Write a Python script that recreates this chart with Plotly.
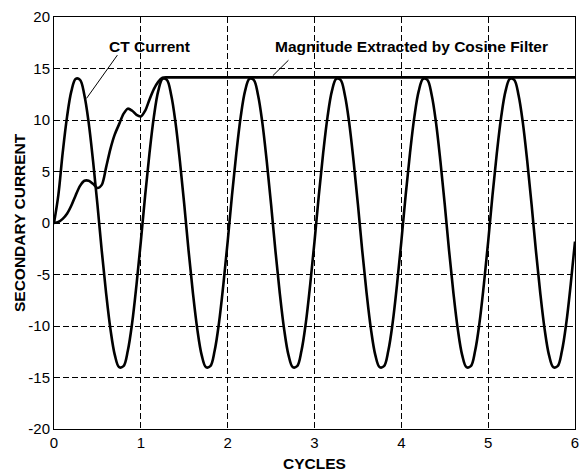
import plotly.graph_objects as go

ct_x = [i * 0.05 for i in range(121)]
ct_y = [0.0,
        2.7, 6.8, 10.3, 12.8, 14.0, 13.9, 12.4, 9.7, 6.0, 1.8,
        -2.7, -6.8, -10.3, -12.8, -14.0, -13.9, -12.4, -9.7, -6.0, -1.8,
        2.7, 6.8, 10.3, 12.8, 14.0, 13.9, 12.4, 9.7, 6.0, 1.8,
        -2.7, -6.8, -10.3, -12.8, -14.0, -13.9, -12.4, -9.7, -6.0, -1.8,
        2.7, 6.8, 10.3, 12.8, 14.0, 13.9, 12.4, 9.7, 6.0, 1.8,
        -2.7, -6.8, -10.3, -12.8, -14.0, -13.9, -12.4, -9.7, -6.0, -1.8,
        2.7, 6.8, 10.3, 12.8, 14.0, 13.9, 12.4, 9.7, 6.0, 1.8,
        -2.7, -6.8, -10.3, -12.8, -14.0, -13.9, -12.4, -9.7, -6.0, -1.8,
        2.7, 6.8, 10.3, 12.8, 14.0, 13.9, 12.4, 9.7, 6.0, 1.8,
        -2.7, -6.8, -10.3, -12.8, -14.0, -13.9, -12.4, -9.7, -6.0, -1.8,
        2.7, 6.8, 10.3, 12.8, 14.0, 13.9, 12.4, 9.7, 6.0, 1.8,
        -2.7, -6.8, -10.3, -12.8, -14.0, -13.9, -12.4, -9.7, -6.0, -1.8]

# magnitude from the cosine filter
mag_x = [0, 0.05, 0.1, 0.15, 0.2, 0.25, 0.3, 0.35, 0.4, 0.45, 0.5, 0.55,
         0.6, 0.65, 0.7, 0.75, 0.8, 0.85, 0.9, 0.95, 1.0, 1.05, 1.1, 1.15,
         1.2, 1.25, 1.3, 1.35, 1.4, 6.0]
mag_y = [0, 0.1, 0.4, 0.9, 1.7, 2.7, 3.6, 4.1, 4.1, 3.8, 3.4, 3.7,
         5.4, 7.2, 8.6, 9.6, 10.6, 11.1, 10.9, 10.5, 10.35, 10.9, 12.0, 13.0,
         13.7, 14.1, 14.14, 14.14, 14.14, 14.14]

x_ticks = [0, 1, 2, 3, 4, 5, 6]
y_ticks = [-20, -15, -10, -5, 0, 5, 10, 15, 20]

FONT = "Liberation Sans, Arial, sans-serif"
BOLD = dict(family=FONT, size=15.5, color='black')

fig = go.Figure()
fig.add_trace(go.Scatter(x=ct_x, y=ct_y, mode='lines', line=dict(color='black', width=2.6, shape='spline'),
                         name='CT Current'))
fig.add_trace(go.Scatter(x=mag_x, y=mag_y, mode='lines', line=dict(color='black', width=2.6, shape='spline', smoothing=0.8),
                         name='Magnitude'))

axis_common = dict(showline=True, mirror=True, linecolor='black', linewidth=1,
                   showgrid=True, gridcolor='black', gridwidth=1, griddash='6px,3px',
                   zeroline=False, ticks='', automargin=False,
                   tickfont=dict(family=FONT, size=15, color='black'))

fig.update_xaxes(range=[0, 6], tickvals=x_ticks, ticktext=[str(v) for v in x_ticks], **axis_common)
fig.update_yaxes(range=[-20, 20], tickvals=y_ticks, ticktext=[str(v) for v in y_ticks], **axis_common)

# Achsentitel als Annotationen (genauer platzierbar)
fig.add_annotation(xref='paper', yref='paper', x=0.5, y=0, yshift=-34, text='<b>CYCLES</b>',
                   showarrow=False, font=BOLD, yanchor='middle')
fig.add_annotation(xref='paper', yref='paper', x=0, y=0.5, xshift=-35, text='<b>SECONDARY CURRENT</b>',
                   showarrow=False, font=BOLD, textangle=-90, xanchor='center')

# Beschriftungen mit Hinweislinien
fig.add_annotation(x=1.1, y=17.1, text='<b>CT Current</b>', showarrow=False, font=BOLD)
fig.add_annotation(x=4.12, y=17.1, text='<b>Magnitude Extracted by Cosine Filter</b>', showarrow=False, font=BOLD)
fig.add_shape(type='line', x0=0.73, y0=16.3, x1=0.375, y1=12.1, line=dict(color='black', width=1))
fig.add_shape(type='line', x0=2.7, y0=15.8, x1=2.52, y1=14.3, line=dict(color='black', width=1))

fig.update_layout(width=580, height=476, showlegend=False,
                  margin=dict(l=54, r=5, t=17, b=47),
                  plot_bgcolor='white', paper_bgcolor='white',
                  font=dict(family=FONT, color='black'))

fig.write_html("out.html", config={'displayModeBar': False},
               post_script="document.body.style.margin='0';")
